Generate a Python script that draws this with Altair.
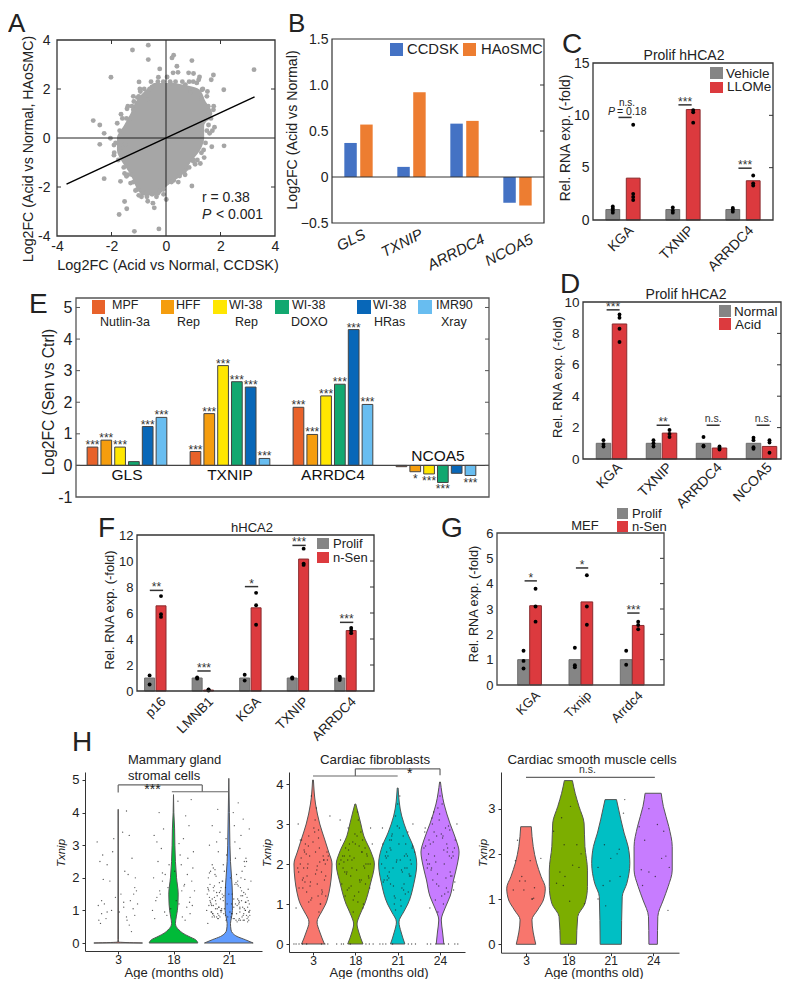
import altair as alt
import pandas as pd

FONT = "Liberation Sans"
W, H = 774, 971

# ---------- Panel A ----------
A_CLOUD_Y = [-2.35, -2.0, -1.5, -1.0, -0.5, 0.0, 0.5, 1.0, 1.5, 2.0, 2.25]
A_CLOUD_X0 = [-0.9, -1.1, -1.3, -1.6, -1.8, -1.8, -1.55, -1.3, -1.1, -0.7, -0.45]
A_CLOUD_X1 = [-0.25, 0.0, 0.6, 0.9, 1.25, 1.4, 1.4, 1.7, 1.45, 1.2, 0.3]
A_PX = [-1.23,-.65,-.65,.28,.22,.95,.4,-.23,3.23,-2.02,-.28,.04,.26,.44,.83,1.01,1.23,1.74,1.66,-.99,-.96,1.52,2.12,-1.18,-1.43,-1.65,-2.67,-2.43,-1.79,-2.27,-2.04,-2.43,-1.91,1.78,1.68,2.13,1.74,1.38,1.26,1.07,.95,.67,.28,-2.27,-1.67,-1.3,-1.52,-1.44,-1.72,-1.16,-.26,-.43,-.67,-.48,.01,-.23,-.09,-.51,-1,-1.12,-1.91,-1.52,-1.45,1.56,1.6,1.32,1.13,1.2,.71,.16,-.51,-.94,-.7,1.0,1.4,1.55,1.3,.9,-1.5,-1.7,-1.35,-1.2,-1.05,.75,.5,
        -.55,-.3,-.1,.15,.35,.6,.85,1.0,-.8,-.6,1.35,-1.0,-1.2,1.5,-1.4,-1.25,1.55,1.75,-1.45,-1.6,1.65,1.5,-1.7,1.5,1.7,-1.85,1.45,-1.9,1.3,-1.75,1.15,1.0,-1.55,.85,-1.25,-1.4,.7,-1.2,.45,.2,-1.05,-.85,-.1,-.9,-.7,-.35]
A_PY = [3.59,3.79,3.2,3.38,3.27,3.16,2.93,2.82,2.79,2.48,2.48,2.49,2.66,2.68,2.66,2.63,2.49,2.57,2.38,2.29,2,1.9,1.97,1.49,1.19,.97,.71,.53,.6,.19,-.01,-.26,-.29,.44,-.36,-.32,1.15,-.49,-1.04,-1.07,-1.96,-1.36,-1.73,-1.66,-1.77,-1.84,-2.59,-2.89,-3.12,-3.81,-3.71,-2.85,-2.58,-2.66,-2.51,-2.14,-2.3,-2.3,-2.34,-2.14,-.7,-1.45,-1.56,.53,.19,1.97,2.25,2.38,2.18,2.25,2.08,1.9,1.56,-.95,-.8,.95,1.6,1.85,-.25,-.45,.75,1.15,1.65,-1.25,-1.55,
        2.3,2.3,2.3,2.3,2.3,2.3,2.3,2.3,2.0,2.0,2.0,1.7,1.7,1.7,1.3,1.3,1.3,1.3,.8,.8,.8,.8,.3,.3,.3,-.2,-.2,-.6,-.6,-.9,-.9,-.9,-1.2,-1.2,-1.5,-1.5,-1.5,-1.8,-1.8,-1.8,-2.1,-2.1,-2.1,-2.4,-2.4,-2.4]
A_LINE_X = [-3.65, 3.25]
A_LINE_Y = [-1.88, 1.68]

# ---------- Panel B ----------
B_GENES = ["GLS", "TXNIP", "ARRDC4", "NCOA5"]
B_CCDSK = [0.37, 0.11, 0.58, -0.28]
B_HAOSMC = [0.57, 0.92, 0.61, -0.31]

# ---------- Panel C ----------
C_GENES = ["KGA", "TXNIP", "ARRDC4"]
C_VEH = [1, 1, 1]
C_LLO = [4, 10.55, 3.75]
C_VEH_DOTS = [[.7, .9, 1.1, 1.3], [.7, .9, 1.2], [.8, 1, 1.15]]
C_LLO_DOTS = [[1.9, 2.2, 2.5, 9.1], [9.3, 10.3, 10.5], [3.3, 3.5, 4.25]]
C_SIG_Y = [9.8, 11.0, 4.95]
C_SIG = ["", "***", "***"]

# ---------- Panel D ----------
D_GENES = ["KGA", "TXNIP", "ARRDC4", "NCOA5"]
D_NORM = [1, 1, 1, 1]
D_ACID = [8.6, 1.65, 0.7, 0.8]
D_NORM_DOTS = [[.8, .95, 1.2], [.8, 1, 1.2], [.8, .85, 1.4], [.65, .75, 1.2, 1.35]]
D_ACID_DOTS = [[7.45, 8.3, 9, 9.2], [1.4, 1.6, 1.85], [.6, .7, .8], [.4, 1.05, 1.2]]
D_SIG_Y = [9.5, 2.15, 2.15, 2.15]
D_SIG = ["***", "**", "n.s.", "n.s."]

# ---------- Panel E ----------
E_GENES = ["GLS", "TXNIP", "ARRDC4", "NCOA5"]
E_COLORS = ["#E8622A", "#F59D0E", "#FFE600", "#12A870", "#0867B8", "#68BDF0"]
E_LEG1 = ["MPF", "HFF", "WI-38", "WI-38", "WI-38", "IMR90"]
E_LEG2 = ["Nutlin-3a", "Rep", "Rep", "DOXO", "HRas", "Xray"]
E_VALS = [[.58, .8, .58, .12, 1.23, 1.52],
          [.44, 1.64, 3.16, 2.65, 2.48, .22],
          [1.84, .98, 2.2, 2.57, 4.3, 1.93],
          [-.04, -.2, -.27, -.54, -.25, -.32]]
E_STARS = [["***", "***", "***", "", "***", "***"],
           ["***"] * 6,
           ["***"] * 6,
           ["", "*", "***", "***", "", "***"]]

# ---------- Panel F ----------
F_GENES = ["p16", "LMNB1", "KGA", "TXNIP", "ARRDC4"]
F_PRO = [1, 1, 1, 1, 1]
F_SEN = [6.55, 0.07, 6.4, 10.15, 4.65]
F_PRO_DOTS = [[.5, 1.2], [.95, 1.05], [.8, 1.25], [.95, 1.05], [.85, 1, 1.1]]
F_SEN_DOTS = [[5.7, 5.9, 7.3], [.03, .1, .12], [5.1, 6.6, 7.55], [9.7, 9.8, 10.95], [4.45, 4.65, 4.85]]
F_SIG_Y = [7.74, 1.54, 8.03, 11.2, 5.28]
F_SIG = ["**", "***", "*", "***", "***"]

# ---------- Panel G ----------
G_GENES = ["KGA", "Txnip", "Arrdc4"]
G_PRO = [1, 1, 1]
G_SEN = [3.13, 3.28, 2.35]
G_PRO_DOTS = [[.65, .95, 1.35], [.7, .78, 1.47], [.8, 1.35]]
G_SEN_DOTS = [[2.5, 3.1, 3.8], [2.38, 3.1, 4.33], [2.2, 2.37, 2.5]]
G_SIG_Y = [4.11, 4.62, 2.84]
G_SIG = ["*", "*", "***"]

# ---------- Panel H violins: y level, half width ----------
H1_AGES = ["3", "18", "21"]
H1_COLORS = ["#F8766D", "#00BA38", "#619CFF"]
H1_V = [
    ([0, .03, .1, 4.1], [.44, .006, .005, .001]),
    ([0, .1, .2, .3, .4, .5, .6, .8, 1, 1.2, 1.5, 2, 2.5, 3, 3.5, 4, 4.55],
     [.44, .4, .28, .17, .1, .05, .035, .05, .07, .08, .085, .055, .035, .025, .02, .006, 0]),
    ([0, .1, .2, .3, .4, .6, .8, 1, 1.5, 2, 2.5, 3, 4, 5.05],
     [.44, .3, .15, .07, .04, .03, .05, .065, .065, .05, .03, .02, .01, 0]),
]
H2_AGES = ["3", "18", "21", "24"]
H2_COLORS = ["#F8766D", "#7CAE00", "#00BFC4", "#C77CFF"]
H2_V = [
    ([0, .3, .55, .8, 1, 1.3, 1.6, 2, 2.3, 2.6, 3, 3.5, 4.1],
     [.27, .16, .095, .2, .3, .38, .425, .45, .37, .28, .16, .06, .01]),
    ([0, .3, .5, .7, 1, 1.5, 2, 2.3, 2.7, 3, 3.3, 3.5],
     [.18, .08, .04, .095, .22, .355, .45, .37, .2, .13, .06, .01]),
    ([0, .3, .55, .8, 1, 1.5, 2, 2.4, 2.8, 3.2, 3.9],
     [.17, .08, .03, .14, .24, .38, .45, .38, .22, .095, .01]),
    ([0, .3, .6, .9, 1.2, 1.6, 2, 2.3, 2.6, 3, 3.5, 4.05],
     [.09, .06, .03, .12, .24, .32, .41, .45, .38, .24, .095, .01]),
]
H3_V = [
    ([0, .54, .76, .98, 1.24, 1.5, 1.8, 2.16, 2.6], [.23, .14, .275, .41, .455, .355, .25, .17, .125]),
    ([0, .61, .9, 1.28, 1.64, 2.16, 2.68, 3.05, 3.34, 3.62], [.19, .22, .39, .45, .45, .39, .37, .25, .16, .095]),
    ([0, 1.05, 1.35, 1.79, 2.16, 2.46, 2.75, 3.2], [.25, .27, .38, .45, .41, .315, .24, .135]),
    ([0, .61, .98, 1.28, 1.64, 2.16, 2.6, 3.05, 3.34], [.10, .11, .24, .355, .45, .45, .37, .24, .19]),
]

# Cell dots: offset from violin centre, expression
H1_DX = [
 [-.3,-.25,-.35,-.2,-.28,-.33,-.12,-.05,.1,.15,.22,.3,.28,.33,.18,.25,.12,.05,-.15,-.3,-.22,-.38,-.1,.08,.2,.35,.3,.15,-.2,-.32,.24,-.08,.16,.27,.1,-.27,.31,.02,-.36,.2],
 [-.38,-.3,-.25,-.2,-.15,-.1,-.32,-.28,-.22,-.35,.1,.15,.2,.25,.3,.35,.12,.18,.28,.32,.05,-.05,.22,.38,-.18,-.26,.14,.24,.3,-.34,.08,-.12,.36,.19,-.2,.26,-.3,.1,.33,-.24,.16,.29,-.08,.21,.02,-.16,.34,-.36],
 [-.4,-.35,-.3,-.25,-.2,-.15,-.1,-.05,.05,.1,.15,.2,.25,.3,.35,.4,-.38,-.32,-.28,-.22,-.18,-.12,-.08,.08,.12,.18,.22,.28,.32,.38,-.36,-.3,-.24,-.2,-.14,-.06,.06,.14,.2,.26,.3,.36,-.33,-.27,-.21,-.16,-.09,.09,.16,.21,.27,.33,-.39,-.31,-.26,-.19,-.11,.11,.19,.24,.31,.37,-.34,-.23,-.17,-.04,.04,.17,.23,.34,-.29,.29,-.13,.13,-.37,.37,-.3,.3,-.22,.22,-.1,.1,-.35,.35,-.18,.18,-.26,.26,-.08,.08,.0,.02,-.02,.15,-.15,.28,-.28,.05,-.05,.33,-.33,.2,
  -.36,-.31,-.27,-.24,-.2,-.17,-.13,-.09,-.06,-.03,.03,.06,.09,.13,.17,.2,.24,.27,.31,.36,-.38,-.34,-.29,-.25,-.21,-.16,-.12,.12,.16,.21,.25,.29,.34,.38,-.37,-.32,-.28,-.23,-.19,-.15,-.11,.11,.15,.19,.23,.28,.32,.37,-.35,-.3,-.26,-.22,-.18,-.14,.14,.18,.22,.26,.3,.35],
]
H1_DY = [
 [.9,1.2,.7,2.4,2.7,2.5,1,1.4,1.1,.8,1.3,1.7,1.5,1.6,2.1,2.6,2.2,1.5,1.9,1.3,.75,3.1,2.8,3.4,3.3,1.2,.85,4.05,.95,.6,.35,3.2,.7,1.05,1.25,1.95,2.0,.95,1.15,.55],
 [1,1.4,1.6,1.9,2.1,1.7,1.3,2.5,2.9,3.3,1.2,1.6,1.8,2.1,1.4,2.3,2.7,3.2,3.6,4.4,1.3,1.05,3.9,1.6,3.5,4.0,2.4,1.1,.9,.75,4.35,.85,2.8,1.75,2.15,2.6,3.1,3.05,1.9,1.5,.8,1.25,2.4,.7,2.2,.95,1.15,2.0],
 [1,1.4,.8,2.1,.9,1.6,2.4,.7,1.2,.75,1.8,2.9,1.1,1.5,.8,1.9,.6,1.2,2.3,3.1,.85,1.9,1.05,.75,2.6,1.3,3.3,.7,2.5,1,1.6,3.6,1.05,4.1,.95,1.7,1.5,2.1,.95,3.8,1.25,.7,2.2,.85,1.45,3.4,.9,1.1,1.35,1.7,.9,1.4,1.5,1.15,1.75,2.8,1.9,3.1,.75,2.2,2.6,3.5,1.8,1.2,1.55,2.7,.8,4.3,1.3,.65,.9,1.95,1.05,1.85,2.0,1.2,2.4,1.0,.8,2.0,1.3,3.6,3.0,1.65,1.1,.7,1.4,.85,2.2,4.0,1.5,.95,.8,1.15,1.35,2.5,1.7,.9,3.2,.75,1.25,1.05,
  1.15,.95,1.6,1.3,.75,1.85,1.0,1.45,.85,1.2,2.0,.9,1.35,.7,1.75,1.1,.8,1.55,1.25,.95,1.7,1.3,.9,2.25,1.05,.8,1.5,1.2,1.9,.7,1.45,2.35,1.1,.85,1.65,.95,1.15,2.05,.75,1.0,1.4,1.8,.65,1.25,1.6,1.05,.85,.95,2.15,1.35,.8,1.55,1.1,1.7,.9,1.2,1.45,.7,1.0,1.3],
]
H2_DX = [
 [-.36,-.3,-.25,-.2,-.15,-.1,-.05,.05,.1,.15,.2,.25,.3,.36,-.33,-.27,-.12,.02,.12,.27,.33,-.22,-.08,.08,.22,-.18,.18,-.4,.4,-.14,.14,.04,-.04,-.24,.24,-.3,.3,.1,-.1,.16,-.35,-.45,-.4,-.33,-.25,-.15,.2,.28,.35,-.28,-.19,-.11,-.03,.06,.13,.21,.29,-.23,-.16,-.07,.0,.09,.17,.26,-.34,.34,-.21,.21,-.13,.13,-.06,.06],
 [-.38,-.32,-.26,-.2,-.14,-.08,-.02,.04,.1,.16,.22,.28,.34,.4,-.35,-.29,-.17,-.05,.07,.19,.31,-.23,-.11,.13,.25,-.3,.3,-.15,.15,.0,-.24,.24,-.08,.08,-.18,.18,.36,-.36,.05,-.05,-.33,-.44,-.28,.33,.42,.25,-.12,-.27,-.21,-.16,-.1,-.03,.03,.09,.14,.2,.27,.32,-.34,-.19,-.06,.06,.17,.35,-.25,.23,-.13,.11,-.01],
 [-.38,-.32,-.26,-.2,-.14,-.08,-.02,.04,.1,.16,.22,.28,.34,.4,-.35,-.29,-.17,-.05,.07,.19,.31,-.23,-.11,.13,.25,-.3,.3,-.15,.15,.0,-.24,.24,-.08,.08,-.18,.18,.36,-.36,.05,-.05,-.35,-.42,-.28,.33,.42,.25,-.12,-.27,-.21,-.16,-.1,-.03,.03,.09,.14,.2,.27,.32,-.34,-.19,-.06,.06,.17,.35,-.25,.23,-.13,.11,-.01],
 [-.38,-.32,-.26,-.2,-.14,-.08,-.02,.04,.1,.16,.22,.28,.34,.4,-.35,-.29,-.17,-.05,.07,.19,.31,-.23,-.11,.13,.25,-.3,.3,-.15,.15,.0,-.24,.24,-.08,.08,-.18,.18,.36,-.36,.05,-.05,-.3,-.22,.1,.2,.35,.42,-.1,-.27,-.21,-.16,-.1,-.03,.03,.09,.14,.2,.27,.32,-.34,-.19,-.06,.06,.17,.35,-.25,.23,-.13,.11,-.01],
]
H2_DY = [
 [1.9,2,1.6,2.3,1.3,2.7,1.1,3.1,1.5,2.4,1.8,2.1,1.7,2.2,1.4,2.6,2,2.9,1.2,1.6,2.3,1.9,2.2,3.4,1.3,2.5,1,.9,3.2,1.7,.8,2.8,3.7,1.4,2.2,2.6,1.2,1.95,1.05,2.05,3.0,0,0,0,0,0,0,0,0,2.15,1.55,2.45,1.15,1.75,2.85,1.35,2.0,1.65,2.25,1.45,2.55,1.85,1.0,2.1,1.8,2.1,2.35,1.25,1.9,2.65,1.55,2.3],
 [2,1.5,2.2,1.8,2.5,2.1,1.2,2.7,1.6,2.3,1.9,2.2,1.4,2.5,2.6,1.9,2.9,1.1,3.1,1,1.7,2.4,1.7,2.8,2,2.2,2,1.4,2.3,2.5,1.2,1.5,1.9,1.3,2.1,.9,2.9,3.1,3.3,.8,0,0,0,0,0,0,0,2.05,1.75,2.35,1.45,2.15,1.85,2.45,1.6,1.95,2.25,1.65,2.1,1.35,2.55,1.05,2.6,2.0,1.8,2.4,2.2,1.55,2.75],
 [2,1.6,2.3,1.8,2.7,1.2,2.1,2.9,1.4,2.2,1.9,1.7,2.4,2.3,2.5,2.2,1.5,3.2,1.1,2.5,1.7,2.2,1.9,2.7,1.3,1.9,2.1,2.6,1.5,3.5,1.7,2.8,1,.95,2.4,1.25,3.0,2.9,3.7,.85,0,0,0,0,0,0,0,2.15,1.65,2.35,1.45,2.05,2.5,1.85,1.35,2.25,1.75,2.0,1.55,2.6,1.15,2.1,1.9,2.45,1.6,2.2,2.75,1.8,2.95],
 [2.4,2.1,2.6,1.9,2.8,1.5,3.1,1.2,2,2.5,2.2,1.7,2.4,3,2.9,2,1.6,3.4,2.7,1.3,2.2,2.5,1.1,2.9,1.7,1.9,2.3,3.3,1.4,3.7,.9,1.8,2.7,1.0,3.0,2.4,2.6,2.8,3.5,.8,0,0,0,0,0,0,0,2.25,1.85,2.55,2.05,1.45,2.75,2.35,1.65,2.95,2.15,1.35,2.45,3.15,1.75,2.65,2.3,1.55,2.0,2.85,2.2,1.25,3.25],
]
H3_DX = [
 [-.2,-.25,-.1,.1,.2,-.02,-.05,.15,-.3,.18,-.15,.35,.14],
 [-.16,-.35,.05,-.1,.2,.3,.25,-.2,-.08,.1,-.12,.38,.03,-.28],
 [-.3,-.15,.2,-.3,0,.15,-.18,.22,-.12,.3,.33,-.02],
 [-.33,-.2,-.1,.1,.25,.2,-.28,-.1,-.25,.3,.38,.05,.35],
]
H3_DY = [
 [2.3,1.85,1.5,1.85,1.25,1.4,1.2,1,1.2,1.02,1.4,1.9,1],
 [2.8,2.5,3.05,2.2,2.2,2,1.7,1.6,1.5,1.75,1.3,.9,.95,1.35],
 [1.7,2.2,2.1,1,1.9,2.0,1.3,1.5,.85,2.9,3.2,1.4],
 [2.6,2.3,3.0,2.65,2.5,1.9,1.65,1.6,1.3,1.95,1.7,1.5,.75],
]

GRAY, RED, DARK = "#858585", "#DC3A3E", "#333333"


def T(text, px, py, size=13, align="left", baseline="alphabetic", angle=0, style="normal", color="#222222"):
    return alt.Chart(pd.DataFrame({"t": [text]})).mark_text(
        font=FONT, fontSize=size, align=align, baseline=baseline, angle=angle, fontStyle=style, color=color
    ).encode(x=alt.value(px - 8), y=alt.value(py - 8), text="t:N")


def swatch(x0, x1, y0, y1, color):
    return alt.Chart(pd.DataFrame({"t": [0]})).mark_rect(color=color).encode(
        x=alt.value(x0 - 8), x2=alt.value(x1 - 8), y=alt.value(y0 - 8), y2=alt.value(y1 - 8))


def frame(x0, x1, y0, y1, color=DARK, w=1.3):
    return alt.Chart(pd.DataFrame({"t": [0]})).mark_rect(filled=False, stroke=color, strokeWidth=w).encode(
        x=alt.value(x0 - 8), x2=alt.value(x1 - 8), y=alt.value(y0 - 8), y2=alt.value(y1 - 8))


class Panel:
    """Pixel box + data domains for one sub-plot drawn through its own scales."""

    def __init__(self, left, right, bottom, top, xdom, ydom):
        self.left, self.right, self.bottom, self.top = left, right, bottom, top
        self.xs = alt.Scale(domain=xdom, range=[left - 8, right - 8], nice=False, zero=False)
        self.ys = alt.Scale(domain=ydom, range=[bottom - 8, top - 8], nice=False, zero=False)
        self.xa = None
        self.ya = None

    def X(self, f="x"):
        return alt.X(f, type="quantitative", scale=self.xs, axis=self.xa, title=None)

    def Y(self, f="y"):
        return alt.Y(f, type="quantitative", scale=self.ys, axis=self.ya, title=None)

    def xaxis(self, values, labels=None, size=13, angle=0, align="center", base="top",
              offset=0, pad=3, ticks=False, domain=False):
        kw = dict(orient="bottom", offset=self.bottom - 8 - H, values=values, grid=False,
                  labelFont=FONT, labelFontSize=size, labelColor="#222222", labelAngle=angle,
                  labelAlign=align, labelBaseline=base, labelOffset=offset, labelPadding=pad,
                  ticks=ticks, domain=domain, domainColor=DARK, tickColor=DARK, tickSize=3,
                  labelOverlap=False, labelBound=False, labelFlush=False)
        kw["labelExpr"] = (f"{labels!r}[datum.value]" if labels else "''+datum.value")
        return alt.Axis(**kw)

    def yaxis(self, values, expr="''+datum.value", size=13, pad=3, ticks=False, domain=False):
        kw = dict(orient="left", offset=-(self.left - 8), values=values, grid=False, labelFont=FONT,
                  labelFontSize=size, labelColor="#222222", labelPadding=pad, ticks=ticks, domain=domain,
                  domainColor=DARK, tickColor=DARK, tickSize=3, labelExpr=expr, labelOverlap=False,
                  labelBound=False, labelFlush=False)
        return alt.Axis(**kw)

    def axes(self, xa, ya):
        """Fix the panel's axes; every layer of the panel then repeats them so they merge."""
        self.xa, self.ya = xa, ya
        d = pd.DataFrame({"x": [0], "y": [0]})
        return alt.Chart(d).mark_point(opacity=0, size=0).encode(x=self.X("x"), y=self.Y("y"))

    def yticks(self, values, left=False, right=True, color=DARK, n=4):
        out = []
        d = pd.DataFrame({"y": values})
        if right:
            out.append(alt.Chart(d).mark_rule(color=color, strokeWidth=1).encode(
                x=alt.value(self.right - 8 - n), x2=alt.value(self.right - 8), y=self.Y("y")))
        if left:
            out.append(alt.Chart(d).mark_rule(color=color, strokeWidth=1).encode(
                x=alt.value(self.left - 8), x2=alt.value(self.left - 8 + n), y=self.Y("y")))
        return out

    def xticks(self, values, n=4, color=DARK):
        d = pd.DataFrame({"x": values})
        return [alt.Chart(d).mark_rule(color=color, strokeWidth=1).encode(
            x=self.X("x"), y=alt.value(self.bottom - 8 - n), y2=alt.value(self.bottom - 8)),
            alt.Chart(d).mark_rule(color=color, strokeWidth=1).encode(
            x=self.X("x"), y=alt.value(self.top - 8), y2=alt.value(self.top - 8 + n))]

    def bars(self, xs, width, vals, fills, strokes, sw=1.0):
        d = pd.DataFrame({"x0": [x - width / 2 for x in xs], "x1": [x + width / 2 for x in xs],
                          "y0": [0] * len(xs), "y1": vals, "f": fills, "s": strokes})
        return alt.Chart(d).mark_rect(strokeWidth=sw).encode(
            x=self.X("x0"), x2=alt.X2("x1"), y=self.Y("y0"), y2=alt.Y2("y1"),
            fill=alt.Fill("f:N", scale=None), stroke=alt.Stroke("s:N", scale=None))

    def dots(self, xs, ys, size=15):
        d = pd.DataFrame({"x": xs, "y": ys})
        return alt.Chart(d).mark_circle(size=size, color="black", opacity=1).encode(x=self.X(), y=self.Y())

    def hline(self, x0, x1, y, color=DARK, w=1.5):
        d = pd.DataFrame({"x0": [x0], "x1": [x1], "y": [y]})
        return alt.Chart(d).mark_rule(color=color, strokeWidth=w).encode(x=self.X("x0"), x2=alt.X2("x1"), y=self.Y("y"))

    def vline(self, x, y0, y1, color=DARK, w=1.2):
        d = pd.DataFrame({"x": [x], "y0": [y0], "y1": [y1]})
        return alt.Chart(d).mark_rule(color=color, strokeWidth=w).encode(x=self.X("x"), y=self.Y("y0"), y2=alt.Y2("y1"))

    def label(self, x, y, text, size=12, dy=0, baseline="middle", color="#333333"):
        d = pd.DataFrame({"x": [x], "y": [y], "t": [text]})
        return alt.Chart(d).mark_text(font=FONT, fontSize=size, baseline=baseline, dy=dy, color=color).encode(
            x=self.X(), y=self.Y(), text="t:N")

    def violin(self, cx, levels, half, fill, stroke="#555555"):
        d = pd.DataFrame({"x0": [cx - h for h in half], "x1": [cx + h for h in half], "y": levels})
        return alt.Chart(d).mark_area(orient="horizontal", fill=fill, stroke=stroke, strokeWidth=1,
                                      interpolate="monotone", opacity=1).encode(
            x=self.X("x0"), x2=alt.X2("x1"), y=self.Y("y"))


def pair_panel(p, genes, a_vals, b_vals, a_dots, b_dots, sig_y, sig, off, bw, half, xa, ya, sig_size=12):
    ls = [p.axes(xa, ya)]
    n = len(genes)
    xs, vals = [], []
    for i in range(n):
        xs += [i - off, i + off]
        vals += [a_vals[i], b_vals[i]]
    ls.append(p.bars(xs, bw, vals, [GRAY, RED] * n, ["#6E6E6E", "#8A2B2E"] * n))
    dx, dy = [], []
    for i in range(n):
        for v in a_dots[i]:
            dx.append(i - off); dy.append(v)
        for v in b_dots[i]:
            dx.append(i + off); dy.append(v)
    ls.append(p.dots(dx, dy))
    for i in range(n):
        ls.append(p.hline(i - half + off * .2, i + half + off * .2, sig_y[i]))
        if sig[i] == "n.s.":
            ls.append(p.label(i + off * .2, sig_y[i], "n.s.", size=10.5, dy=-6))
        elif sig[i]:
            ls.append(p.label(i + off * .2, sig_y[i], sig[i], size=sig_size, dy=-3))
    return ls


panels = []

# ---- A ----
pa = Panel(57, 275, 236, 40, [-4, 4], [-4, 4])
cloud = pd.DataFrame({"x0": A_CLOUD_X0, "x1": A_CLOUD_X1, "y": A_CLOUD_Y})
A_layers = [
    pa.axes(pa.xaxis([-4, -2, 0, 2, 4], size=14, pad=3), pa.yaxis([-4, -2, 0, 2, 4], size=14, pad=7)),
    alt.Chart(cloud).mark_area(orient="horizontal", color="#A6A6A6", interpolate="monotone").encode(
        x=pa.X("x0"), x2=alt.X2("x1"), y=pa.Y("y")),
    alt.Chart(pd.DataFrame({"x": A_PX, "y": A_PY})).mark_circle(size=24, color="#A6A6A6", opacity=1).encode(x=pa.X(), y=pa.Y()),
    pa.hline(-4, 4, 0, color="#222222", w=1),
    pa.vline(0, -4, 4, color="#222222", w=1),
    alt.Chart(pd.DataFrame({"x": A_LINE_X, "y": A_LINE_Y})).mark_line(color="black", strokeWidth=1.5).encode(x=pa.X(), y=pa.Y()),
]
A_layers += pa.yticks([-2, 2], left=True) + pa.xticks([-2, 2])
panels.append(alt.layer(*A_layers))

# ---- B ----
pb = Panel(332, 544, 223, 39, [-.5, 3.5], [-.5, 1.5])
B_x = []
for i in range(4):
    B_x += [i - .15, i + .15]
B_v = [v for pair in zip(B_CCDSK, B_HAOSMC) for v in pair]
B_layers = [
    pb.axes(None, pb.yaxis([-.5, 0, .5, 1, 1.5], expr="datum.value==0?'0':format(datum.value,'.1f')", size=14, pad=4)),
]
B_layers += [pb.bars(B_x, .235, B_v, ["#4472C4", "#ED7D31"] * 4, ["#4472C4", "#ED7D31"] * 4, sw=0),
             pb.hline(-.5, 3.5, 0, color="#333333", w=1)] + pb.yticks([.5, 1])
panels.append(alt.layer(*B_layers))

# ---- C ----
pc = Panel(593, 773, 220, 63, [-.5, 2.5], [0, 15])
C_layers = pair_panel(
    pc, C_GENES, C_VEH, C_LLO, C_VEH_DOTS, C_LLO_DOTS, C_SIG_Y, C_SIG, .17, .23, .11,
    pc.xaxis([0, 1, 2], labels=C_GENES, size=14, angle=315, align="right", base="middle", offset=8, pad=8),
    pc.yaxis([0, 5, 10, 15], size=14, pad=4))
panels.append(alt.layer(*(C_layers + pc.yticks([5, 10]))))

# ---- D ---- (right edge kept just inside the drawable area)
pd_ = Panel(583, 781, 459, 302, [-.57, 3.39], [0, 10])
D_layers = pair_panel(
    pd_, D_GENES, D_NORM, D_ACID, D_NORM_DOTS, D_ACID_DOTS, D_SIG_Y, D_SIG, .16, .29, .13,
    pd_.xaxis([0, 1, 2, 3], labels=D_GENES, size=14, angle=315, align="right", base="middle", offset=8, pad=6),
    pd_.yaxis([0, 2, 4, 6, 8, 10], size=13.5, pad=4))
panels.append(alt.layer(*(D_layers + pd_.yticks([2, 4, 6, 8]))))

# ---- E ----
pe = Panel(76, 489, 497, 298, [-.495, 3.515], [-1, 5.3])
E_layers = [pe.axes(None, pe.yaxis([-1, 0, 1, 2, 3, 4, 5], size=16, pad=4))]
E_step = .134
for j, color in enumerate(E_COLORS):
    xs = [g + (j - 2.5) * E_step for g in range(4)]
    vals = [E_VALS[g][j] for g in range(4)]
    E_layers.append(pe.bars(xs, .104, vals, [color] * 4, ["#444444"] * 4, sw=1))
for g in range(4):
    for j in range(6):
        if E_STARS[g][j]:
            v = E_VALS[g][j]
            E_layers.append(pe.label(g + (j - 2.5) * E_step, v, E_STARS[g][j], size=12, dy=-2 if v > 0 else 7))
E_layers.append(pe.hline(-.495, 3.515, 0, color="#444444", w=1.3))
for g, name in enumerate(E_GENES):
    E_layers.append(pe.label(g + (.02 if g == 3 else 0), 0, name, size=15.5, dy=-9 if g == 3 else 10, color="#111111"))
E_layers += pe.yticks([0, 1, 2, 3, 4, 5], left=True, color="#555555")
panels.append(alt.layer(*E_layers))

# ---- F ----
pf = Panel(137, 374, 691, 535, [-.385, 4.6], [0, 12])
F_layers = pair_panel(
    pf, F_GENES, F_PRO, F_SEN, F_PRO_DOTS, F_SEN_DOTS, F_SIG_Y, F_SIG, .12, .21, .14,
    pf.xaxis([0, 1, 2, 3, 4], labels=F_GENES, size=13.5, angle=315, align="right", base="middle", offset=8, pad=8),
    pf.yaxis([0, 2, 4, 6, 8, 10, 12], size=13, pad=4))
panels.append(alt.layer(*(F_layers + pf.yticks([2, 4, 6, 8, 10]))))

# ---- G ----
pg = Panel(497, 664, 685, 533, [-.634, 2.62], [0, 6])
G_layers = pair_panel(
    pg, G_GENES, G_PRO, G_SEN, G_PRO_DOTS, G_SEN_DOTS, G_SIG_Y, G_SIG, .117, .228, .12,
    pg.xaxis([0, 1, 2], labels=G_GENES, size=13, angle=315, align="right", base="middle", offset=8, pad=8),
    pg.yaxis([0, 1, 2, 3, 4, 5, 6], size=13, pad=4))
panels.append(alt.layer(*(G_layers + pg.yticks([1, 2, 3, 4, 5]))))


def violin_panel(p, ages, colors, shapes, dxs, dys, yvals, size=1.8):
    ls = [p.axes(p.xaxis(list(range(len(ages))), labels=ages, size=12, pad=0, ticks=True, domain=True),
                 p.yaxis(yvals, size=13, pad=3, ticks=True, domain=True))]
    for i, (lv, hw) in enumerate(shapes):
        ls.append(p.violin(i, lv, hw, colors[i]))
    xs, ys = [], []
    for i in range(len(ages)):
        for dx, y in zip(dxs[i], dys[i]):
            xs.append(i + dx); ys.append(y)
    ls.append(alt.Chart(pd.DataFrame({"x": xs, "y": ys})).mark_circle(size=size, color="#222222", opacity=.75).encode(x=p.X(), y=p.Y()))
    return ls


# ---- H1 ----
ph1 = Panel(85, 262, 951, 772, [-.6, 2.6], [-.245, 5.245])
H1_layers = violin_panel(ph1, H1_AGES, H1_COLORS, H1_V, H1_DX, H1_DY, [0, 1, 2, 3, 4, 5])
BR = "#666666"
H1_layers += [ph1.hline(0, 1.52, 4.85, color=BR, w=1.2), ph1.vline(0, 4.62, 4.85, color=BR),
              ph1.vline(1.52, 4.64, 4.85, color=BR), ph1.hline(.97, 2, 4.64, color=BR, w=1.2),
              ph1.label(.62, 4.73, "***", size=14, dy=1, color="#222222")]
panels.append(alt.layer(*H1_layers))

# ---- H2 ----
ph2 = Panel(289, 465, 952, 772, [-.567, 3.59], [-.2, 4.3])
H2_layers = violin_panel(ph2, H2_AGES, H2_COLORS, H2_V, H2_DX, H2_DY, [0, 1, 2, 3, 4])
H2_layers += [ph2.hline(0, 2, 4.2, color=BR, w=1.2), ph2.vline(1, 4.2, 4.38, color=BR),
              ph2.hline(1, 3, 4.38, color=BR, w=1.2), ph2.vline(3, 4.22, 4.38, color=BR),
              ph2.label(2.285, 4.28, "*", size=14, dy=1, color="#222222")]
panels.append(alt.layer(*H2_layers))

# ---- H3 ----
ph3 = Panel(501, 679, 952.7, 772, [-.59, 3.61], [-.186, 3.81])
H3_layers = violin_panel(ph3, H2_AGES, H2_COLORS, H3_V, H3_DX, H3_DY, [0, 1, 2, 3], size=2)
H3_layers += [ph3.hline(0, 3.04, 3.69, color=BR, w=1.2), ph3.label(1.45, 3.69, "n.s.", size=10.5, dy=-7)]
panels.append(alt.layer(*H3_layers))

# ---- frames ----
frames = [frame(57, 275, 40, 236), frame(332, 544, 39, 223, w=1.2), frame(593, 773, 63, 220),
          frame(583, 781, 302, 459), frame(76, 489, 298, 497, color="#555555", w=1.3),
          frame(137, 374, 535, 691), frame(497, 664, 533, 685, color="#444444")]


def ytitle(text, px, py, size):
    return T(text, px, py, size, align="center", baseline="middle", angle=270)


# ---- legends and text ----
RNA = "Rel. RNA exp. (-fold)"
texts = [
    T("A", 8, 32, 26), T("B", 288, 32, 26), T("C", 562, 53, 28), T("D", 560, 293, 28),
    T("E", 29, 313, 28), T("F", 98, 537, 28), T("G", 441, 537, 28), T("H", 72, 751, 28),
    T("Log2FC (Acid vs Normal, CCDSK)", 168, 270, 14.5, align="center"),
    ytitle("Log2FC (Acid vs Normal, HAoSMC)", 29, 149, 14.2),
    ytitle("Log2FC (Acid vs Normal)", 293, 130, 14.2),
    ytitle(RNA, 566, 138, 13.8), ytitle(RNA, 558, 377, 13.3),
    ytitle("Log2FC (Sen vs Ctrl)", 49, 402, 15.6),
    ytitle(RNA, 110, 610, 13), ytitle(RNA, 474, 604, 12.7),
    T("r = 0.38", 202, 202, 14), T("P", 202, 219, 14, style="italic"), T("< 0.001", 216, 219, 14),
    swatch(390, 403, 43, 56, "#4472C4"), swatch(463, 476, 43, 56, "#ED7D31"),
    T("CCDSK", 407, 54, 14.8), T("HAoSMC", 481, 54, 14.8),
    T(B_GENES[0], 351, 240, 15, align="center", baseline="middle", angle=333, style="italic"),
    T(B_GENES[1], 402, 243, 15, align="center", baseline="middle", angle=333, style="italic"),
    T(B_GENES[2], 456, 252, 15, align="center", baseline="middle", angle=333, style="italic"),
    T(B_GENES[3], 509, 250, 15, align="center", baseline="middle", angle=333, style="italic"),
    T("Prolif hHCA2", 684, 60, 14, align="center"),
    swatch(710, 723, 67, 79, GRAY), swatch(710, 723, 82, 93, RED),
    T("Vehicle", 726, 78, 13.5), T("LLOMe", 727, 91, 13.5),
    T("n.s.", 627, 106, 10, align="center"), T("P", 608, 115, 10.5, style="italic"), T("= 0.18", 617, 115, 10.5),
    T("Prolif hHCA2", 686, 299, 14, align="center"),
    swatch(719, 731, 305, 317, GRAY), swatch(719, 731, 318, 330, RED),
    T("Normal", 734, 316, 13.5), T("Acid", 735, 329, 13.5),
    T("hHCA2", 252, 532, 13, align="center"),
    swatch(317, 329, 538, 549, GRAY), swatch(317, 329, 552, 563, RED),
    T("Prolif", 333, 548, 13), T("n-Sen", 333, 562, 13),
    T("MEF", 585, 530, 13, align="center"),
    swatch(617, 628, 508, 519, GRAY), swatch(617, 628, 521, 532, RED),
    T("Prolif", 632, 518, 13), T("n-Sen", 632, 531, 13),
    T("Mammary gland", 128, 764, 13), T("stromal cells", 128, 780, 13),
    T("Cardiac fibroblasts", 375, 764, 13.3, align="center"),
    T("Cardiac smooth muscle cells", 592, 764, 13.3, align="center"),
    T("Txnip", 65, 853, 11.5, align="center", angle=270, style="italic"),
    T("Txnip", 271, 853, 11.5, align="center", angle=270, style="italic"),
    T("Txnip", 487, 853, 11.5, align="center", angle=270, style="italic"),
    T("Age (months old)", 174, 977, 13, align="center"),
    T("Age (months old)", 379, 977, 13, align="center"),
    T("Age (months old)", 594, 977, 13, align="center"),
]
E_SQ = [(92, 105), (161, 174), (213, 227), (275, 289), (357, 371), (418, 432)]
E_T1 = [112, 176, 229, 292, 373, 436]
E_T2 = [100, 177, 235, 291, 374, 441]
for j in range(6):
    texts += [swatch(E_SQ[j][0], E_SQ[j][1], 300, 314, E_COLORS[j]),
              T(E_LEG1[j], E_T1[j], 309, 12.5), T(E_LEG2[j], E_T2[j], 326, 12.5)]

chart = alt.layer(*panels, *frames, *texts).resolve_scale(x="independent", y="independent").properties(
    width=W, height=H, padding=0, autosize=alt.AutoSizeParams(type="none"), background="white"
).configure_view(stroke=None)

chart.save("out.html", embed_options={"renderer": "svg", "actions": False})
